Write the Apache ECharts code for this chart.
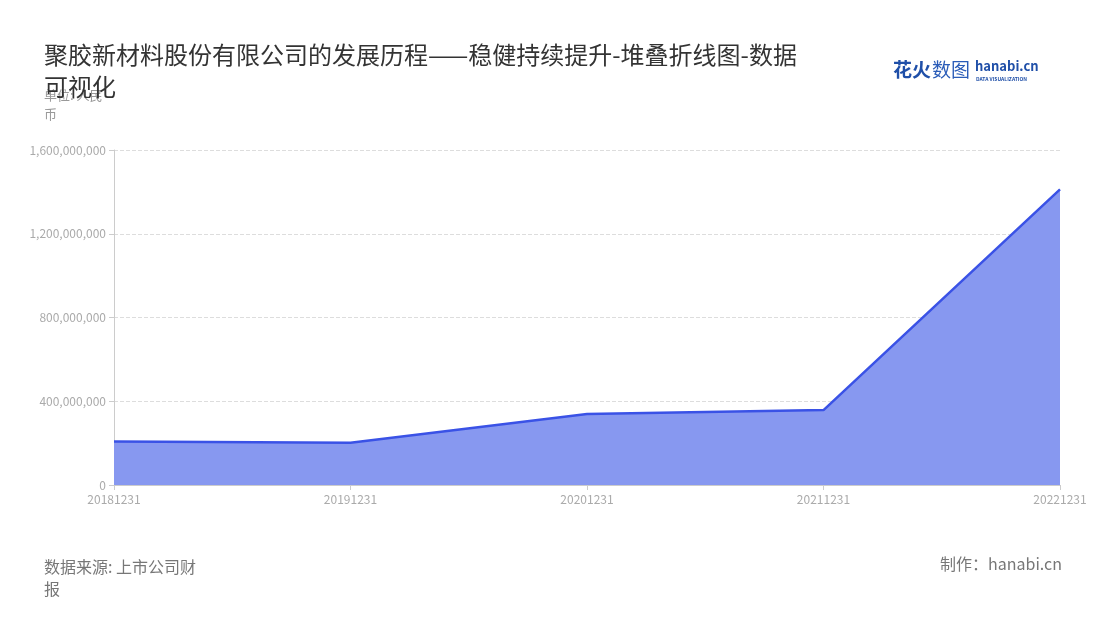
<!DOCTYPE html>
<html>
<head>
<meta charset="utf-8">
<script src="https://cdn.jsdelivr.net/npm/echarts@6/dist/echarts.min.js"></script>
<style>
  html, body { margin: 0; padding: 0; background: #fff; }
  #main { width: 1100px; height: 620px; }
</style>
</head>
<body>
<div id="main"></div>
<script>
// 数据
var categories = ['20181231', '20191231', '20201231', '20211231', '20221231']
var values = [208000000, 202000000, 339000000, 358000000, 1412000000]
var yTicks = [0, 400000000, 800000000, 1200000000, 1600000000]

var font = '"Noto Sans CJK SC", "Noto Sans", sans-serif'
var chart = echarts.init(document.getElementById('main'))

var option = {
  backgroundColor: '#fff',
  textStyle: { fontFamily: font },
  title: {
    text: '聚胶新材料股份有限公司的发展历程——稳健持续提升-堆叠折线图-数据\n可视化',
    left: 39,
    top: 34,
    textStyle: { fontSize: 24, fontWeight: 'normal', color: '#333', lineHeight: 32, fontFamily: font }
  },
  grid: { left: 114, right: 40, top: 150, bottom: 135 },
  xAxis: {
    type: 'category',
    boundaryGap: false,
    data: categories,
    axisLine: { lineStyle: { color: '#ccc' } },
    axisTick: { show: true, lineStyle: { color: '#ccc' } },
    axisLabel: { color: '#aaa', fontSize: 12, margin: 8 }
  },
  yAxis: {
    type: 'value',
    min: yTicks[0],
    max: yTicks[yTicks.length - 1],
    interval: yTicks[1] - yTicks[0],
    axisLine: { show: true, lineStyle: { color: '#ccc' } },
    axisTick: { show: true, lineStyle: { color: '#ccc' } },
    axisLabel: {
      color: '#aaa', fontSize: 12,
      formatter: function (v) { return v.toLocaleString('en-US') }
    },
    splitLine: { lineStyle: { color: '#ddd', type: 'dashed' } }
  },
  series: [{
    name: '营业收入',
    type: 'line',
    stack: 'total',
    data: values,
    symbol: 'none',
    lineStyle: { color: '#3a52e6', width: 2.5 },
    itemStyle: { color: '#3a52e6' },
    areaStyle: { color: '#8798f0', opacity: 1 }
  }],
  graphic: [
    {
      type: 'text', left: 44, top: 86,
      style: { text: '单位: 人民\n币', fill: '#999', font: '13px ' + font, lineHeight: 19 }
    },
    {
      type: 'text', left: 44, top: 556,
      style: { text: '数据来源: 上市公司财\n报', fill: '#777', font: '16px ' + font, lineHeight: 22 }
    },
    {
      type: 'text', right: 38, top: 556,
      style: { text: '制作：hanabi.cn', fill: '#777', font: '16px ' + font }
    },
    {
      type: 'text', left: 893, top: 60,
      style: { text: '花火', fill: '#1f4fa8', font: 'bold 19px ' + font }
    },
    {
      type: 'text', left: 932, top: 60,
      style: { text: '数图', fill: '#2a5cb8', font: '19px ' + font }
    },
    {
      type: 'text', left: 975, top: 60,
      style: { text: 'hanabi.cn', fill: '#1f4fa8', font: 'bold 13px ' + font }
    },
    {
      type: 'text', left: 976, top: 77,
      style: { text: 'DATA VISUALIZATION', fill: '#1f4fa8', font: 'bold 5px ' + font }
    }
  ]
}

chart.setOption(option)
</script>
</body>
</html>
